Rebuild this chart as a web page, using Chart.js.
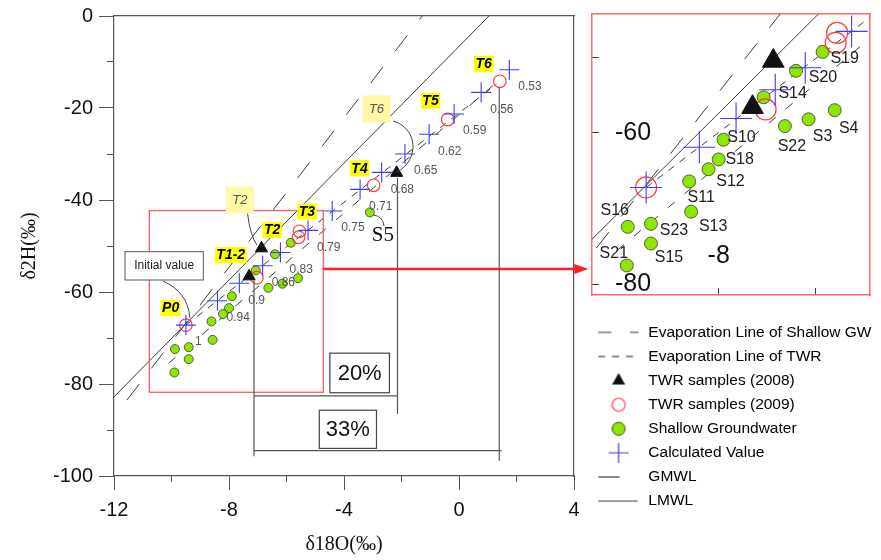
<!DOCTYPE html>
<html>
<head>
<meta charset="utf-8">
<script src="https://cdn.jsdelivr.net/npm/chart.js@4.4.1/dist/chart.umd.min.js"></script>
<style>
  html, body { margin: 0; padding: 0; background: #fff; }
  #wrap { position: relative; width: 881px; height: 560px; overflow: hidden; }
  canvas { position: absolute; }
  #main { left: 0; top: 0; }
  #inset { left: 585px; top: 0; }
  #key { left: 588px; top: 316px; }
</style>
</head>
<body>
<div id="wrap">
  <canvas id="main" width="881" height="560"></canvas>
  <canvas id="inset" width="296" height="300"></canvas>
  <canvas id="key" width="293" height="230"></canvas>
</div>
<script>
const SANS = '"Liberation Sans", Arial, sans-serif';
const SERIF = '"Liberation Serif", "Times New Roman", serif';

// shallow groundwater samples (d18O, d2H)
const gwNames = ['S19', 'S20', 'S14', 'S22', 'S3', 'S4', 'S10', 'S18', 'S12', 'S11', 'S13', 'S16', 'S23', 'S15', 'S21', 'S5'];
const gwO = [-5.85, -6.40, -7.07, -6.63, -6.14, -5.60, -7.90, -8.00, -8.21, -8.61, -8.57, -9.88, -9.40, -9.40, -9.90, -3.10];
const gwH = [-49.3, -51.8, -55.3, -59.1, -58.2, -57.0, -60.9, -63.5, -64.8, -66.4, -70.4, -72.4, -72.0, -74.6, -77.5, -42.7];

// TWR samples 2008 (filled triangles)
const twr08O = [-6.87, -7.30, -2.17];
const twr08H = [-50.5, -56.6, -34.1];

// TWR samples 2009 (open circles)
const twr09O = [-9.50, -7.03, -5.55, -5.58, -2.97, -0.39, 1.42];
const twr09H = [-67.2, -56.9, -46.8, -48.1, -36.8, -22.5, -14.2];

// calculated values and remaining fraction
const calcO = [-9.50, -8.40, -7.64, -6.83, -6.21, -5.25, -4.41, -3.44, -2.69, -1.88, -1.04, -0.17, 0.77, 1.75];
const calcH = [-67.2, -61.9, -58.1, -54.3, -51.4, -46.6, -42.4, -37.7, -34.0, -30.0, -25.7, -21.3, -16.6, -11.7];
const calcF = ['1', '0.94', '0.9', '0.86', '0.83', '0.79', '0.75', '0.71', '0.68', '0.65', '0.62', '0.59', '0.56', '0.53'];

// reference lines, end points
const gmwlO = [-11.55, -1.28];
const gmwlH = [-83.5, 0];
const lmwlO = [-12, 1.04];
const lmwlH = [-82.8, 0];
const evapGwO = [-10.1, 1.3];
const evapGwH = [-75.5, -14.5];
const evapTwrO = [-9.5, 1.3];
const evapTwrH = [-67.2, -14.8];

// axis ticks
const xMajor = [-12, -8, -4, 0, 4];
const xMinor = [-10, -6, -2, 2];
const yMajor = [-100, -80, -60, -40, -20, 0];
const yMinor = [-90, -70, -50, -30, -10];
const insetXTicks = [-8, -6];
const insetXLabels = ['-8', ''];
const insetYTicks = [-80, -60, -50];
const insetYLabels = ['-80', '-60', ''];

const keyLabels = ['Evaporation Line of Shallow GW', 'Evaporation Line of TWR', 'TWR samples (2008)',
  'TWR samples (2009)', 'Shallow Groundwater', 'Calculated Value', 'GMWL', 'LMWL'];

// annotation anchors (data units)
const tagNames = ['P0', 'T1-2', 'T2', 'T3', 'T4', 'T5', 'T6'];
const tagO = [-10.03, -7.94, -6.50, -5.29, -3.46, -0.99, 0.86];
const tagH = [-63.5, -51.97, -46.5, -42.5, -33.1, -18.4, -10.4];
const noteText = ['T2', 'T6'];
const noteO = [-7.62, -2.87];
const noteH = [-40.0, -20.2];
const leaders = [
  [[-7.357, -42.83], [-7.27, -47.6], [-7.03, -49.8]],
  [[-2.296, -22.83], [-1.43, -24.35], [-1.357, -31.3], [-2.157, -33.9]],
  [[-10.30, -57.6], [-9.43, -60.0], [-9.36, -65.65]],
  [[-2.99, -43.26], [-2.643, -43.5], [-2.61, -45.65]]
];
const initO = [-11.617, -8.894];
const initH = [-57.39, -51.24];
const zoomO = [-10.77, -4.72];
const zoomH = [-81.8, -42.3];
const arrowH = -55.0;
const arrowTipO = 4.5;
const dropO = [-7.13, -2.14, 1.40];
const dropTopH = [-57.5, -35.2, -15.4];
const dropBotH = [-95.7, -86.5, -96.7];
const bar20H = -82.6;
const bar33H = -94.5;
const bar33EndO = 1.48;
const pctText = ['20%', '33%'];
const pctO = [[-4.49, -2.42], [-4.86, -2.87]];
const pctH = [[-81.9, -73.3], [-94.0, -85.7]];

// label offsets in the inset (px from the point)
const insetTagOffset = {
  S19: [22, 7], S20: [27, 7], S14: [29, -4], S10: [18, -2], S18: [21, 0], S12: [22, 12],
  S11: [12, 16], S13: [22, 15], S16: [-13, -16], S23: [23, 7], S21: [-13, -12], S15: [18, 14],
  S22: [7, 20], S3: [14, 17], S4: [14, 18]
};

const pts = (xs, ys) => xs.map((x, i) => ({ x, y: ys[i] }));

function lineSet(label, xs, ys, dash) {
  return {
    label, data: pts(xs, ys), showLine: true, borderColor: '#3c3c3c', borderWidth: 1,
    borderDash: dash, pointRadius: 0, order: 5
  };
}

function markSets(sz) {
  return [
    { label: 'TWR samples (2008)', data: pts(twr08O, twr08H), pointStyle: 'triangle', pointRadius: sz.tri,
      pointBackgroundColor: '#111', pointBorderColor: '#111', pointBorderWidth: 1, order: 1 },
    { label: 'Calculated Value', data: pts(calcO, calcH), pointStyle: 'cross', pointRadius: sz.cross,
      pointBorderColor: '#3b3bff', pointBorderWidth: 1.1, order: 2 },
    { label: 'TWR samples (2009)', data: pts(twr09O, twr09H), pointStyle: 'circle', pointRadius: sz.ring,
      pointBackgroundColor: 'rgba(255,255,255,0)', pointBorderColor: '#ff3d3d', pointBorderWidth: 1.2, order: 3 },
    { label: 'Shallow Groundwater', data: pts(gwO, gwH), pointStyle: 'circle', pointRadius: sz.dot,
      pointBackgroundColor: '#8fe600', pointBorderColor: '#3a3a3a', pointBorderWidth: 0.8, order: 4 },
    lineSet('Evaporation Line of Shallow GW', evapGwO, evapGwH, [9, 13]),
    lineSet('Evaporation Line of TWR', evapTwrO, evapTwrH, [7, 7]),
    lineSet('GMWL', gmwlO, gmwlH, [20, 20]),
    lineSet('LMWL', lmwlO, lmwlH, [])
  ];
}

// fixed-size axes: no room taken and no extra label padding
const flat = (w, h) => s => {
  if (s.isHorizontal()) s.height = h; else s.width = w;
  s.paddingTop = s.paddingBottom = s.paddingLeft = s.paddingRight = 0;
};
const useTicks = vals => s => { s.ticks = vals.map(v => ({ value: v })); };

Chart.defaults.font.family = SANS;

// annotations on the main plot
const mainNotes = {
  id: 'mainNotes',
  afterDatasetsDraw(chart) {
    const { ctx, scales: { x, y } } = chart;
    const X = v => x.getPixelForValue(v);
    const Y = v => y.getPixelForValue(v);
    const seg = (x0, y0, x1, y1) => { ctx.beginPath(); ctx.moveTo(x0, y0); ctx.lineTo(x1, y1); ctx.stroke(); };
    ctx.save();

    // zoom window and arrow to the inset
    ctx.strokeStyle = '#ff5a5a';
    ctx.lineWidth = 1.3;
    ctx.strokeRect(X(zoomO[0]), Y(zoomH[1]), X(zoomO[1]) - X(zoomO[0]), Y(zoomH[0]) - Y(zoomH[1]));
    const ay = Y(arrowH), ax0 = X(zoomO[1]), ax1 = X(arrowTipO);
    ctx.strokeStyle = '#ff1f1f';
    ctx.fillStyle = '#ff1f1f';
    ctx.lineWidth = 2.5;
    seg(ax0, ay, ax1 - 10, ay);
    ctx.beginPath();
    ctx.moveTo(ax1, ay); ctx.lineTo(ax1 - 14, ay - 5); ctx.lineTo(ax1 - 14, ay + 5);
    ctx.closePath(); ctx.fill();

    // drop lines and the 20% / 33% brackets
    ctx.strokeStyle = '#555';
    ctx.lineWidth = 1.2;
    dropO.forEach((o, i) => seg(X(o), Y(dropTopH[i]), X(o), Y(dropBotH[i])));
    seg(X(dropO[0]), Y(bar20H), X(dropO[1]), Y(bar20H));
    seg(X(dropO[0]), Y(bar33H), X(bar33EndO), Y(bar33H));
    ctx.font = '22px ' + SANS;
    ctx.textAlign = 'center';
    ctx.textBaseline = 'middle';
    pctText.forEach((t, i) => {
      const l = X(pctO[i][0]), r = X(pctO[i][1]), t0 = Y(pctH[i][1]), b = Y(pctH[i][0]);
      ctx.fillStyle = '#fff';
      ctx.fillRect(l, t0, r - l, b - t0);
      ctx.strokeStyle = '#444';
      ctx.strokeRect(l, t0, r - l, b - t0);
      ctx.fillStyle = '#111';
      ctx.fillText(t, (l + r) / 2, (t0 + b) / 2 + 1);
    });

    // leader curves
    ctx.strokeStyle = '#444';
    ctx.lineWidth = 1;
    leaders.forEach(p => {
      ctx.beginPath();
      ctx.moveTo(X(p[0][0]), Y(p[0][1]));
      if (p.length === 3) ctx.quadraticCurveTo(X(p[1][0]), Y(p[1][1]), X(p[2][0]), Y(p[2][1]));
      else ctx.bezierCurveTo(X(p[1][0]), Y(p[1][1]), X(p[2][0]), Y(p[2][1]), X(p[3][0]), Y(p[3][1]));
      ctx.stroke();
    });

    // "Initial value" callout
    const il = X(initO[0]), ir = X(initO[1]), it = Y(initH[1]), ib = Y(initH[0]);
    ctx.fillStyle = '#fff';
    ctx.fillRect(il, it, ir - il, ib - it);
    ctx.strokeStyle = '#555';
    ctx.strokeRect(il, it, ir - il, ib - it);
    ctx.fillStyle = '#222';
    ctx.font = '12px ' + SANS;
    ctx.fillText('Initial value', (il + ir) / 2, (it + ib) / 2);

    // pale callouts
    ctx.font = 'italic 13px ' + SANS;
    noteText.forEach((t, i) => {
      const cx = X(noteO[i]), cy = Y(noteH[i]);
      ctx.fillStyle = '#fff8a6';
      ctx.fillRect(cx - 14, cy - 13.5, 28, 27);
      ctx.fillStyle = '#555';
      ctx.fillText(t, cx, cy);
    });

    // yellow sample tags
    ctx.font = 'italic bold 14px ' + SANS;
    tagNames.forEach((t, i) => {
      const cx = X(tagO[i]), cy = Y(tagH[i]);
      const w = ctx.measureText(t).width;
      ctx.fillStyle = '#ffff00';
      ctx.fillRect(cx - w / 2 - 1.5, cy - 8, w + 3, 16);
      ctx.fillStyle = '#000';
      ctx.fillText(t, cx, cy + 0.5);
    });

    // remaining fractions beside calculated values
    ctx.font = '12px ' + SANS;
    ctx.fillStyle = '#555';
    ctx.textAlign = 'left';
    calcF.forEach((t, i) => ctx.fillText(t, X(calcO[i]) + 9, Y(calcH[i]) + 17));

    // S5 label
    const s5 = gwNames.indexOf('S5');
    ctx.font = '21px ' + SERIF;
    ctx.fillStyle = '#111';
    ctx.textAlign = 'center';
    ctx.fillText(gwNames[s5], X(gwO[s5]) + 13, Y(gwH[s5]) + 23);
    ctx.restore();
  }
};

const axisLine = { color: '#555', width: 1.2 };
const tickFont = { size: 20, family: SANS };

new Chart(document.getElementById('main'), {
  type: 'scatter',
  data: { datasets: markSets({ tri: 7, cross: 10, ring: 6.3, dot: 4.5 }) },
  options: {
    responsive: false,
    animation: false,
    events: [],
    layout: { autoPadding: false, padding: { top: 16, right: 307, bottom: 0, left: 0 } },
    plugins: { legend: { display: false }, tooltip: { enabled: false } },
    scales: {
      x: {
        type: 'linear', min: -12, max: 4,
        afterBuildTicks: useTicks(xMajor),
        afterFit: flat(0, 84),
        ticks: { autoSkip: false, maxRotation: 0, minRotation: 0, padding: 8, color: '#111', font: tickFont, callback: v => String(v) },
        grid: { drawOnChartArea: false, tickLength: 14, color: '#555' },
        border: axisLine,
        title: { display: true, text: 'δ18O(‰)', color: '#111', font: { family: SERIF, size: 20 }, padding: { top: 0, bottom: 3 } }
      },
      xMinor: {
        type: 'linear', position: 'bottom', weight: -1, min: -12, max: 4,
        afterBuildTicks: useTicks(xMinor),
        afterFit: flat(0, 0),
        ticks: { autoSkip: false, maxRotation: 0, minRotation: 0, callback: () => '' },
        grid: { drawOnChartArea: false, tickLength: 6, color: '#555' },
        border: { display: false }
      },
      y: {
        type: 'linear', min: -100, max: 0,
        afterBuildTicks: useTicks(yMajor),
        afterFit: flat(114, 0),
        ticks: { autoSkip: false, padding: 6, color: '#111', font: tickFont, callback: v => String(v) },
        grid: { drawOnChartArea: false, tickLength: 15, color: '#555' },
        border: axisLine,
        title: { display: true, text: 'δ2H(‰)', color: '#111', font: { family: SERIF, size: 20 }, padding: { top: 18, bottom: 0 } }
      },
      yMinor: {
        type: 'linear', position: 'left', weight: -1, min: -100, max: 0,
        afterBuildTicks: useTicks(yMinor),
        afterFit: flat(0, 0),
        ticks: { autoSkip: false, callback: () => '' },
        grid: { drawOnChartArea: false, tickLength: 7, color: '#555' },
        border: { display: false }
      },
      xTop: {
        type: 'linear', position: 'top', min: -12, max: 4,
        ticks: { display: false }, grid: { display: false },
        border: axisLine,
        afterFit: flat(0, 0)
      },
      yRight: {
        type: 'linear', position: 'right', min: -100, max: 0,
        ticks: { display: false }, grid: { display: false },
        border: axisLine,
        afterFit: flat(0, 0)
      }
    }
  },
  plugins: [mainNotes]
});

// sample names in the inset
const insetNames = {
  id: 'insetNames',
  afterDatasetsDraw(chart) {
    const { ctx, chartArea: a, scales: { x, y } } = chart;
    ctx.save();
    ctx.beginPath();
    ctx.rect(a.left, a.top, a.width, a.height);
    ctx.clip();
    ctx.font = '16px ' + SANS;
    ctx.fillStyle = '#222';
    ctx.textAlign = 'center';
    ctx.textBaseline = 'middle';
    gwNames.forEach((n, i) => {
      const off = insetTagOffset[n];
      if (!off) return;
      ctx.fillText(n, x.getPixelForValue(gwO[i]) + off[0], y.getPixelForValue(gwH[i]) + off[1]);
    });
    ctx.restore();
  }
};

const insetBorder = { color: '#ff6a6a', width: 1.5 };
new Chart(document.getElementById('inset'), {
  type: 'scatter',
  data: { datasets: markSets({ tri: 12.5, cross: 16, ring: 10.5, dot: 6.5 }) },
  options: {
    responsive: false,
    animation: false,
    events: [],
    layout: { autoPadding: false, padding: { top: 14, right: 11, bottom: 5, left: 7 } },
    plugins: { legend: { display: false }, tooltip: { enabled: false } },
    scales: {
      x: {
        type: 'linear', min: -10.62, max: -4.87,
        afterBuildTicks: useTicks(insetXTicks),
        afterFit: flat(0, 0),
        ticks: {
          mirror: true, padding: 24, autoSkip: false, maxRotation: 0, minRotation: 0,
          color: '#111', font: { size: 25, family: SANS },
          callback: v => insetXLabels[insetXTicks.indexOf(v)] ?? ''
        },
        grid: { drawOnChartArea: false, tickLength: -7, color: '#444' },
        border: insetBorder
      },
      y: {
        type: 'linear', min: -81.4, max: -44.3,
        afterBuildTicks: useTicks(insetYTicks),
        afterFit: flat(0, 0),
        ticks: {
          mirror: true, padding: 23, crossAlign: 'near', autoSkip: false,
          color: '#111', font: { size: 25, family: SANS },
          callback: v => insetYLabels[insetYTicks.indexOf(v)] ?? ''
        },
        grid: { drawOnChartArea: false, tickLength: -7, color: '#444' },
        border: insetBorder
      },
      xTop: {
        type: 'linear', position: 'top', min: -10.62, max: -4.87,
        ticks: { display: false }, grid: { display: false }, border: insetBorder,
        afterFit: flat(0, 0)
      },
      yRight: {
        type: 'linear', position: 'right', min: -81.4, max: -44.3,
        ticks: { display: false }, grid: { display: false }, border: insetBorder,
        afterFit: flat(0, 0)
      }
    }
  },
  plugins: [insetNames]
});

// legend glyphs
function glyph(draw) {
  const c = document.createElement('canvas');
  c.width = 42; c.height = 24;
  const g = c.getContext('2d');
  g.lineWidth = 1.2;
  g.strokeStyle = '#3c3c3c';
  draw(g);
  return c;
}
const dashGlyph = (dash, len) => glyph(g => {
  g.setLineDash(dash);
  g.beginPath(); g.moveTo(0.5, 12); g.lineTo(len, 12); g.stroke();
});
const keyGlyphs = [
  dashGlyph([13, 19], 41),
  dashGlyph([7, 7], 36),
  glyph(g => { g.fillStyle = '#111'; g.beginPath(); g.moveTo(21, 4.5); g.lineTo(27.5, 16); g.lineTo(14.5, 16); g.closePath(); g.fill(); }),
  glyph(g => { g.strokeStyle = '#ff3d3d'; g.beginPath(); g.arc(21, 12, 6.5, 0, Math.PI * 2); g.stroke(); }),
  glyph(g => { g.fillStyle = '#8fe600'; g.strokeStyle = '#333'; g.lineWidth = 0.9; g.beginPath(); g.arc(21, 12, 6.5, 0, Math.PI * 2); g.fill(); g.stroke(); }),
  glyph(g => { g.strokeStyle = '#3b3bff'; g.beginPath(); g.moveTo(21, 2); g.lineTo(21, 22); g.moveTo(11, 12); g.lineTo(31, 12); g.stroke(); }),
  dashGlyph([], 22),
  dashGlyph([], 40)
];

new Chart(document.getElementById('key'), {
  type: 'scatter',
  data: { datasets: [] },
  options: {
    responsive: false,
    animation: false,
    events: [],
    layout: { padding: 0 },
    scales: { x: { display: false }, y: { display: false } },
    plugins: {
      tooltip: { enabled: false },
      legend: {
        position: 'left',
        align: 'start',
        maxWidth: 288,
        labels: {
          usePointStyle: true,
          pointStyleWidth: 44,
          boxHeight: 16,
          padding: 8.6,
          textAlign: 'left',
          color: '#1a1a1a',
          font: { size: 15.5, family: SANS },
          generateLabels: () => keyLabels.map((text, i) => ({
            text, pointStyle: keyGlyphs[i], fillStyle: 'rgba(0,0,0,0)', strokeStyle: 'rgba(0,0,0,0)',
            lineWidth: 0, hidden: false, datasetIndex: i
          }))
        }
      }
    }
  }
});
</script>
</body>
</html>
